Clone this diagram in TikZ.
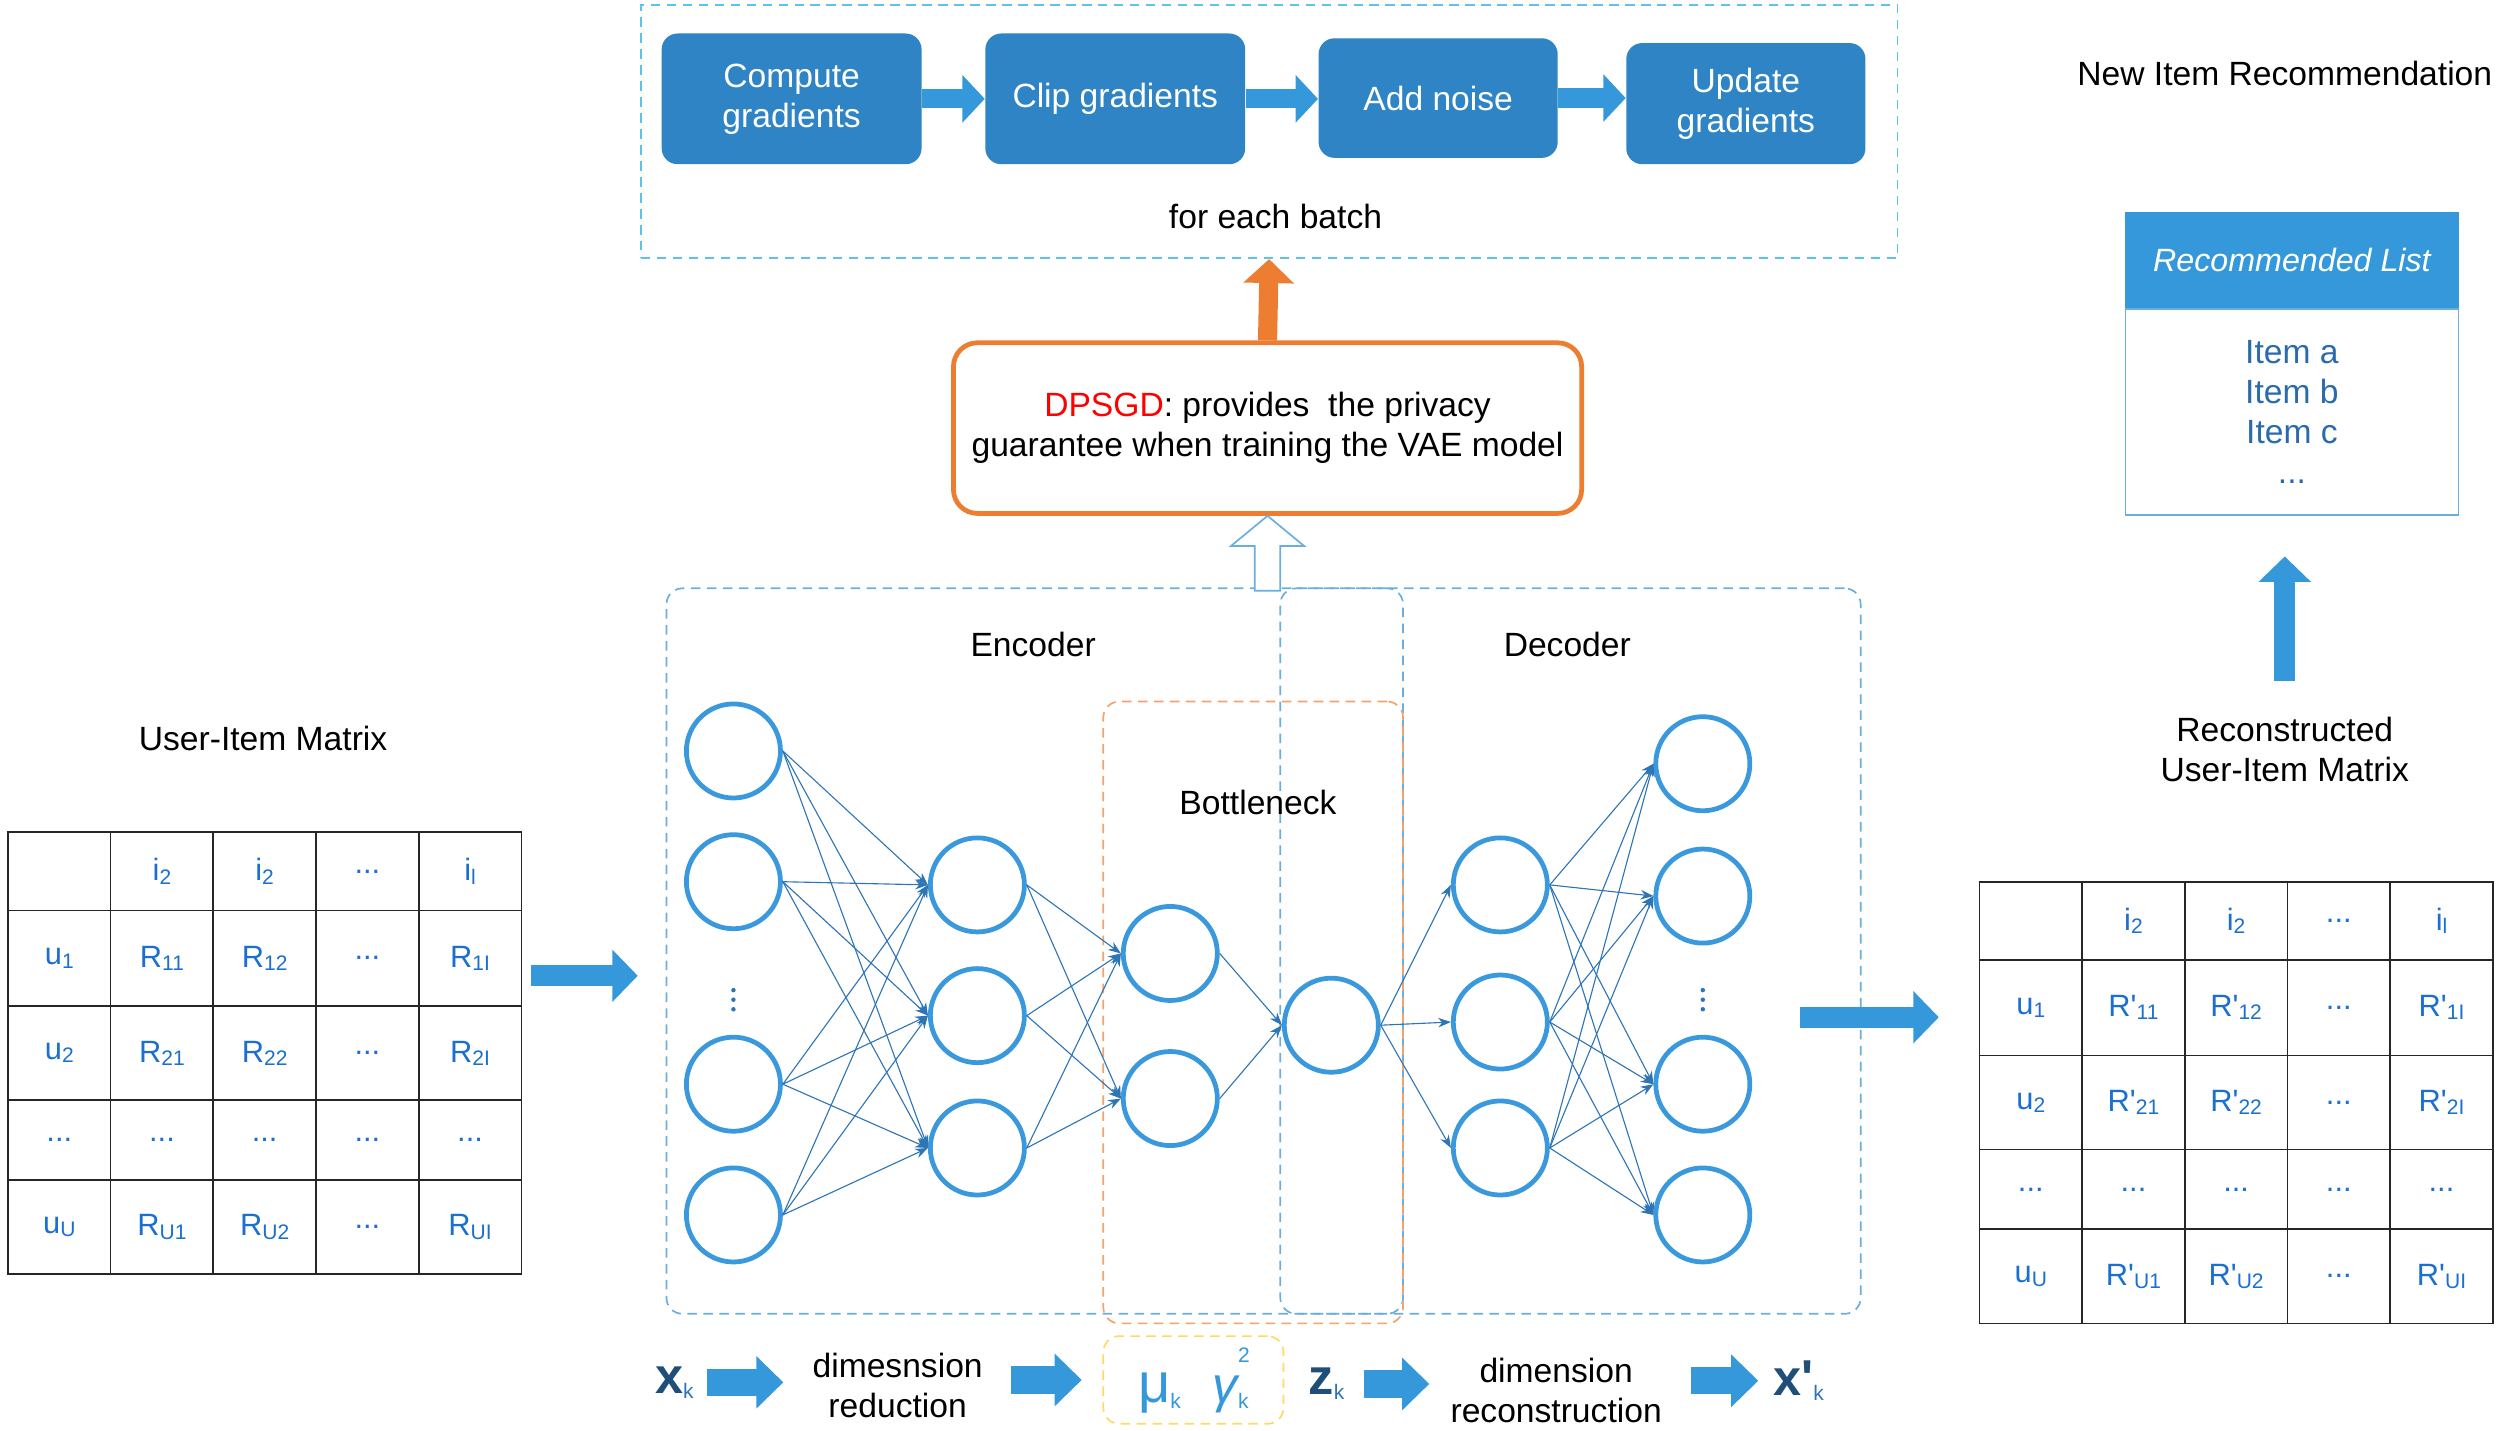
\documentclass[tikz,border=0pt]{standalone}
\usepackage{fontspec}
\setmainfont{Liberation Sans}
\usetikzlibrary{arrows.meta, positioning, matrix}

\definecolor{boxblue}{HTML}{2E84C4}
\definecolor{arrblue}{HTML}{3498DB}
\definecolor{ringblue}{HTML}{3A98DC}
\definecolor{linkblue}{HTML}{2E75B6}
\definecolor{dashblue}{HTML}{6AAEE0}
\definecolor{cyanline}{HTML}{5BC4EE}
\definecolor{dporange}{HTML}{ED7D31}
\definecolor{softorange}{HTML}{F5A26A}
\definecolor{softyellow}{HTML}{FFD966}
\definecolor{cellblue}{HTML}{1A6FD0}
\definecolor{itemblue}{HTML}{2A6BB0}
\definecolor{darkblue}{HTML}{1F4E79}

\newcommand{\sbx}[1]{\raisebox{-0.2ex}{\fontsize{7.5}{8}\selectfont #1}}

\begin{document}
\begin{tikzpicture}[x=0.2mm, y=-0.2mm,
    txt/.style={font=\fontsize{12}{14.2}\selectfont, align=center},
    stepbox/.style={txt, fill=boxblue, text=white, rounded corners=2mm, inner sep=0pt},
    dashbox/.style={draw=#1, line width=0.6pt, dash pattern=on 3.4pt off 2.3pt, rounded corners=2mm, inner sep=0pt},
    neuron/.style={circle, draw=ringblue, line width=1.7pt, minimum size=11.8mm, inner sep=0pt},
    link/.style={draw=linkblue, line width=0.4pt, -{Stealth[length=1.6mm, width=1.2mm]}},
    stepflow/.style={draw=arrblue, line width=2.4mm, -{Triangle[width=5.8mm, length=2.8mm]}},
    flow/.style={draw=arrblue, line width=2.6mm, -{Triangle[width=6.4mm, length=3.2mm]}},
    rowflow/.style={draw=arrblue, line width=3.4mm, -{Triangle[width=6.4mm, length=3.4mm]}},
    upflow/.style={draw=dporange, line width=2.4mm, -{Triangle[width=6.2mm, length=3mm]}},
    hollow/.style={draw=dashblue, line width=0.6pt, fill=white},
    symb/.style={font=\fontsize{18}{18}\selectfont\bfseries, text=darkblue, inner sep=0pt},
    celltable/.style={matrix of nodes, nodes in empty cells, column sep=-0.6pt, row sep=-0.6pt,
        nodes={draw=black!85, line width=0.6pt, minimum width=12.88mm, text=cellblue,
               font=\fontsize{11}{12}\selectfont, inner sep=0pt, anchor=center},
        row 1/.style={nodes={minimum height=9.8mm}},
        row 2/.style={nodes={minimum height=12mm}},
        row 3/.style={nodes={minimum height=11.8mm}},
        row 4/.style={nodes={minimum height=10mm}},
        row 5/.style={nodes={minimum height=11.8mm}}}
]
\useasboundingbox (0,0) rectangle (1568,897);

% DPSGD steps for each batch
\node[dashbox=cyanline, sharp corners, minimum width=157.6mm, minimum height=31.8mm] (batch) at (796,82.5) {};
\node[stepbox, minimum width=32.6mm, minimum height=16.4mm] (grad) at (496.5,62) {Compute\\gradients};
\node[stepbox, minimum width=32.6mm, minimum height=16.4mm] (clip) at (699.5,62) {Clip gradients};
\node[stepbox, minimum width=30mm, minimum height=15mm] (noise) at (902,61.5) {Add noise};
\node[stepbox, minimum width=30mm, minimum height=15.2mm] (update) at (1095,65) {Update\\gradients};
\draw[stepflow] (grad.east) -- (grad.east -| clip.west);
\draw[stepflow] (clip.east) -- (clip.east -| noise.west);
\draw[stepflow] (noise.east) -- (noise.east -| update.west);
\node[txt] (each) at (800,136) {for each batch};

% privacy box
\node[txt, draw=dporange, line width=1.7pt, rounded corners=3mm, minimum width=78.8mm, minimum height=21.4mm] (dp) at (795,268.5)
    {\textcolor{red}{DPSGD}: provides\ \ the privacy\\guarantee when training the VAE model};
\draw[upflow] (dp.north) -- (batch.south);

% VAE frames
\node[dashbox=dashblue, minimum width=92.4mm, minimum height=91mm] (enc) at (649,596.5) {};
\node[dashbox=dashblue, minimum width=72.8mm, minimum height=91mm] (dec) at (985,596.5) {};
\node[dashbox=softorange, minimum width=37.6mm, minimum height=78mm] (neck) at (786,635) {};
\node[dashbox=softyellow, minimum width=22.6mm, minimum height=11mm] (stats) at (748.5,865.5) {};
\draw[hollow] (dp.south) -- ++(23,19) -- ++(-15,0) -- ++(0,28) -- ++(-16,0) -- ++(0,-28) -- ++(-15,0) -- cycle;

\node[txt] (enclabel) at (648,404) {Encoder};
\node[txt] (declabel) at (983,404) {Decoder};
\node[txt] (necklabel) at (789,503) {Bottleneck};

% neurons
\foreach \i/\y in {1/471, 2/553, 3/680, 4/762}
    \node[neuron] (in\i) at (460,\y) {};
\foreach \i/\y in {1/555, 2/637, 3/720}
    \node[neuron] (hid\i) at (613,\y) {};
\foreach \i/\y in {1/598, 2/689}
    \node[neuron] (mu\i) at (734,\y) {};
\node[neuron] (z) at (835,643) {};
\foreach \i/\y in {1/555, 2/641, 3/720}
    \node[neuron] (dh\i) at (941,\y) {};
\foreach \i/\y in {1/479, 2/562, 3/680, 4/762}
    \node[neuron] (out\i) at (1068,\y) {};
\foreach \x in {460, 1068}
    \foreach \d in {-6, 0, 6}
        \fill[linkblue] (\x, 627+\d) circle (0.28mm);

% weights
\foreach \i in {1,...,4}
    \foreach \j in {1,2,3}
        \draw[link] (in\i.east) -- (hid\j.west);
\foreach \i in {1,2,3}
    \foreach \j in {1,2}
        \draw[link] (hid\i.east) -- (mu\j.west);
\foreach \i in {1,2}
    \draw[link] (mu\i.east) -- (z.west);
\foreach \j in {1,2,3}
    \draw[link] (z.east) -- (dh\j.west);
\foreach \i in {1,2,3}
    \foreach \j in {1,...,4}
        \draw[link] (dh\i.east) -- (out\j.west);

% user-item matrices
\node[txt] (uimlabel) at (165,463) {User-Item Matrix};
\matrix (uim) [celltable] at (166,660.5) {
      & i\sbx{2} & i\sbx{2} & ... & i\sbx{l} \\
    u\sbx{1} & R\sbx{11} & R\sbx{12} & ... & R\sbx{1I} \\
    u\sbx{2} & R\sbx{21} & R\sbx{22} & ... & R\sbx{2I} \\
    ... & ... & ... & ... & ... \\
    u\sbx{U} & R\sbx{U1} & R\sbx{U2} & ... & R\sbx{UI} \\
};
\matrix (ruim) [celltable] at (1402.5,691.5) {
      & i\sbx{2} & i\sbx{2} & ... & i\sbx{l} \\
    u\sbx{1} & R\textquotesingle\sbx{11} & R\textquotesingle\sbx{12} & ... & R\textquotesingle\sbx{1I} \\
    u\sbx{2} & R\textquotesingle\sbx{21} & R\textquotesingle\sbx{22} & ... & R\textquotesingle\sbx{2I} \\
    ... & ... & ... & ... & ... \\
    u\sbx{U} & R\textquotesingle\sbx{U1} & R\textquotesingle\sbx{U2} & ... & R\textquotesingle\sbx{UI} \\
};
\coordinate (mIn) at (333,612);
\coordinate (mOut) at (400,612);
\draw[flow] (mIn) -- (mOut);
\coordinate (rIn) at (1129,638);
\coordinate (rOut) at (1216,638);
\draw[flow] (rIn) -- (rOut);

% recommendation
\node[txt] (newrec) at (1433,46) {New Item Recommendation};
\node[txt, fill=arrblue, text=white, font=\fontsize{11.5}{14}\selectfont\itshape, minimum width=41.8mm, minimum height=12mm, inner sep=0pt] (rhead) at (1437.5,163) {Recommended List};
\node[txt, draw=dashblue, line width=0.6pt, text=itemblue, minimum width=41.8mm, minimum height=25.8mm, inner sep=0pt, below=0pt of rhead] (rbody) {Item a\\Item b\\Item c\\...};
\node[txt] (reclabel) at (1433,470) {Reconstructed\\User-Item Matrix};
\coordinate (upS) at (1433,427);
\coordinate (upE) at (1433,349);
\draw[flow] (upS) -- (upE);

% data flow
\node[symb] (xk) at (423,867) {x\sbx{\mdseries\textcolor{linkblue}{k}}};
\node[txt, inner sep=0pt] (red) at (563,869) {dimesnsion\\reduction};
\node[text=arrblue, inner sep=0pt] (musig) at (748.5,866)
    {\fontsize{20}{20}\selectfont μ\sbx{k}\hspace{4mm}\fontsize{18}{18}\selectfont\itshape γ\rlap{\raisebox{1.5ex}{\fontsize{7.5}{8}\selectfont\upshape 2}}\sbx{\upshape k}};
\node[symb] (zk) at (832,868) {z\sbx{\mdseries\textcolor{linkblue}{k}}};
\node[txt, inner sep=0pt] (rec) at (976,872) {dimension\\reconstruction};
\node[symb] (xpk) at (1128,866) {x\textquotesingle\sbx{\mdseries\textcolor{linkblue}{k}}};
\draw[rowflow, shorten <=1.6mm, shorten >=3.6mm] (xk.east) -- (xk.east -| red.west);
\draw[rowflow, shorten <=3.5mm, shorten >=2.6mm] (red.east |- stats.west) -- (stats.west);
\draw[rowflow, shorten <=2.4mm, shorten >=2.6mm] (zk.east) -- (zk.east -| rec.west);
\draw[rowflow, shorten <=3.6mm, shorten >=1.8mm] (rec.east |- xpk.west) -- (xpk.west);
\end{tikzpicture}
\end{document}
